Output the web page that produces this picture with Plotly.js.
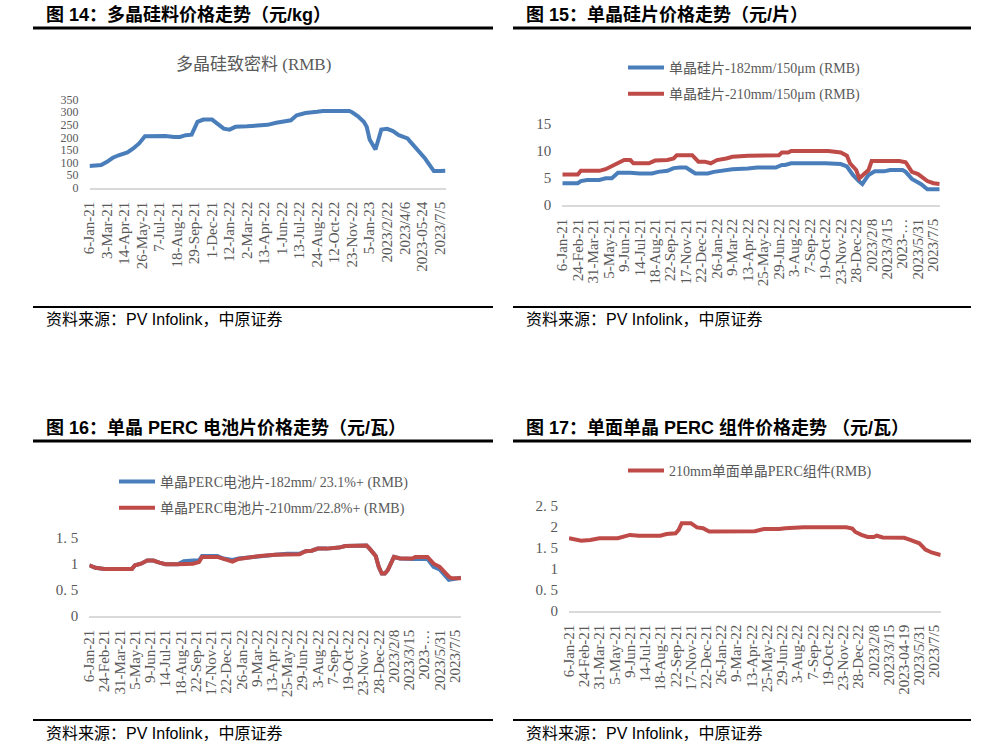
<!DOCTYPE html>
<html><head><meta charset="utf-8">
<script src="https://cdn.plot.ly/plotly-3.0.1.min.js"></script>
<style>html,body{margin:0;padding:0;background:#fff}#chart{width:986px;height:748px}</style>
</head><body><div id="chart"></div>
<script>
// ---------- Figure 14: polysilicon dense material (RMB/kg) ----------
const fig14Ticks = ["6-Jan-21","3-Mar-21","14-Apr-21","26-May-21","7-Jul-21","18-Aug-21","29-Sep-21","1-Dec-21","12-Jan-22","2-Mar-22","13-Apr-22","1-Jun-22","13-Jul-22","24-Aug-22","12-Oct-22","23-Nov-22","5-Jan-23","2023/2/22","2023/4/6","2023-05-24","2023/7/5"];
const polyWeek  = [0,4,6,8,10,13,15,17,19,23,26,29,31,33,35,37,39,42,46,48,50,54,57,61,64,67,69,71,74,78,80,89,90,92,94,95,96,98,100,102,104,106,109,110,113,115,117,118,120,122];
const polyPrice = [86,90,103,119,129,140,156,176,205,206,206,202,202,209,211,262,271,271,235,231,242,244,246,250,258,264,268,288,297,302,305,305,300,284,262,242,192,152,231,234,225,209,196,182,143,116,83,66,66,67];

// ---------- Figure 15: mono wafer (RMB/piece) ----------
const fig15Ticks = ["6-Jan-21","24-Feb-21","31-Mar-21","5-May-21","9-Jun-21","14-Jul-21","18-Aug-21","22-Sep-21","17-Nov-21","22-Dec-21","26-Jan-22","9-Mar-22","13-Apr-22","25-May-22","29-Jun-22","3-Aug-22","7-Sep-22","19-Oct-22","23-Nov-22","28-Dec-22","2023/2/8","2023/3/15","2023-…","2023/5/31","2023/7/5"];
const wafer182Week  = [0,5,6,8,12,14,16,18,22,25,29,31,34,36,38,40,43,47,49,53,55,60,63,69,71,72,74,85,90,92,94,96,97,98,99,101,104,106,110,111,113,116,118,122];
const wafer182Price = [4.0,4.0,4.4,4.6,4.6,4.9,4.9,5.95,5.95,5.8,5.8,6.1,6.3,6.8,6.9,6.9,5.8,5.8,6.1,6.45,6.6,6.75,6.9,6.9,7.4,7.4,7.7,7.7,7.55,7.1,5.5,4.3,3.85,4.7,5.5,6.2,6.2,6.45,6.45,6.1,4.8,3.8,2.85,2.85];
const wafer210Week  = [0,5,6,12,14,16,20,22,23,28,30,34,36,37,42,44,46,48,50,53,55,60,64,70,71,73,74,86,90,92,93,95,96,97,99,100,109,111,113,115,118,120,122];
const wafer210Price = [5.6,5.6,6.3,6.3,6.6,7.2,8.3,8.3,7.7,7.7,8.2,8.3,8.6,9.2,9.2,8.0,8.0,7.7,8.3,8.6,8.9,9.1,9.2,9.2,9.7,9.7,10.0,10.0,9.7,9.1,7.7,6.45,4.9,5.5,6.45,8.1,8.1,7.9,6.1,5.7,4.4,4.0,3.85];

// ---------- Figure 16: mono PERC cell (RMB/W) ----------
const fig16Ticks = ["6-Jan-21","24-Feb-21","31-Mar-21","5-May-21","9-Jun-21","14-Jul-21","18-Aug-21","22-Sep-21","17-Nov-21","22-Dec-21","26-Jan-22","9-Mar-22","13-Apr-22","25-May-22","29-Jun-22","3-Aug-22","7-Sep-22","19-Oct-22","23-Nov-22","28-Dec-22","2023/2/8","2023/3/15","2023-…","2023/5/31","2023/7/5"];
const cell182Week  = [0,2,5,10,12,14,15,17,19,21,23,25,29,31,34,36,37,42,44,46,47,49,52,56,61,65,69,70,71,73,75,78,82,84,91,92,94,95,96,97,98,100,102,106,111,113,115,118,119,122];
const cell182Price = [0.97,0.92,0.90,0.90,0.89,0.90,0.97,1.0,1.06,1.06,1.02,0.99,0.99,1.05,1.06,1.06,1.15,1.15,1.10,1.07,1.07,1.10,1.12,1.15,1.17,1.19,1.19,1.22,1.24,1.25,1.29,1.29,1.31,1.34,1.35,1.29,1.15,0.94,0.81,0.81,0.88,1.13,1.10,1.09,1.09,0.94,0.89,0.69,0.70,0.73];
const cell210Week  = [0,2,5,10,12,14,15,17,19,21,23,25,29,31,34,36,37,42,44,46,47,49,52,56,61,65,69,70,71,73,75,78,82,84,91,92,94,95,96,97,98,100,102,106,107,111,113,115,118,119,122];
const cell210Price = [0.97,0.92,0.90,0.90,0.89,0.90,0.97,1.0,1.06,1.06,1.02,0.99,0.99,1.0,1.0,1.03,1.13,1.13,1.09,1.05,1.04,1.09,1.12,1.15,1.17,1.18,1.18,1.21,1.24,1.25,1.29,1.29,1.31,1.34,1.35,1.29,1.15,0.94,0.81,0.81,0.88,1.13,1.10,1.10,1.13,1.13,1.0,0.94,0.75,0.72,0.72];
const cellYTickVals = [0,0.5,1,1.5];
const cellYTickText = ["0","0. 5","1","1. 5"];

// ---------- Figure 17: mono-facial PERC module (RMB/W) ----------
const fig17Ticks = ["6-Jan-21","24-Feb-21","31-Mar-21","5-May-21","9-Jun-21","14-Jul-21","18-Aug-21","22-Sep-21","17-Nov-21","22-Dec-21","26-Jan-22","9-Mar-22","13-Apr-22","25-May-22","29-Jun-22","3-Aug-22","7-Sep-22","19-Oct-22","23-Nov-22","28-Dec-22","2023/2/8","2023/3/15","2023-04-19","2023/5/31","2023/7/5"];
const moduleWeek  = [0,2,4,7,10,16,18,20,23,30,32,35,36,37,40,42,44,46,61,64,69,71,77,91,93,94,96,98,100,101,103,106,110,112,115,117,119,122];
const modulePrice = [1.73,1.69,1.67,1.69,1.73,1.73,1.78,1.81,1.79,1.79,1.83,1.85,1.93,2.09,2.09,1.99,1.97,1.89,1.90,1.95,1.95,1.97,1.99,1.99,1.96,1.88,1.81,1.76,1.76,1.79,1.75,1.74,1.74,1.69,1.61,1.46,1.39,1.33];
const moduleYTickVals = [0,0.5,1,1.5,2,2.5];
const moduleYTickText = ["0","0. 5","1","1. 5","2","2. 5"];

// ---------- styling ----------
const W = 986, H = 748;
const fx = p => p / W;
const fy = p => 1 - p / H;
const BLUE = "#4a7ebb", RED = "#be4b48", GREY = "#595959";
const SERIF = "Liberation Serif, Noto Sans CJK SC, serif";
const SANS = "Liberation Sans, Noto Sans CJK SC, sans-serif";

function xAxis(ticks, step, x0, x1, anchor) {
  return {
    domain: [fx(x0), fx(x1)], anchor: anchor, type: "linear", range: [0, 122],
    tickvals: ticks.map((t, i) => i * step), ticktext: ticks, tickangle: -90,
    ticks: "", showgrid: false, zeroline: false, showline: true,
    linecolor: "#d9d9d9", linewidth: 2, ticklabelstandoff: 6,
    tickfont: {family: SERIF, size: 15, color: GREY}, fixedrange: true
  };
}
function yAxis(range, y0, y1, anchor, extra, fsize) {
  return Object.assign({
    domain: [fy(y1), fy(y0)], anchor: anchor, range: range,
    ticks: "", showgrid: false, zeroline: false, showline: false,
    ticklabelstandoff: 10, tickfont: {family: SERIF, size: fsize || 15, color: GREY}, fixedrange: true
  }, extra || {});
}
function line(x, y, name, color, xa, ya, legend, show) {
  return {type: "scatter", mode: "lines", x: x, y: y, name: name, xaxis: xa, yaxis: ya,
    line: {color: color, width: 4, shape: "linear"}, cliponaxis: false,
    legend: legend, legendgroup: name, showlegend: show, hoverinfo: "skip"};
}

const traces = [
  line(polyWeek, polyPrice, "多晶硅致密料 (RMB)", BLUE, "x", "y", "legend", false),
  line(wafer182Week, wafer182Price, "单晶硅片-182mm/150μm (RMB)", BLUE, "x2", "y2", "legend", true),
  line(wafer210Week, wafer210Price, "单晶硅片-210mm/150μm (RMB)", RED, "x2", "y2", "legend", true),
  line(cell182Week, cell182Price, "单晶PERC电池片-182mm/ 23.1%+ (RMB)", BLUE, "x3", "y3", "legend2", true),
  line(cell210Week, cell210Price, "单晶PERC电池片-210mm/22.8%+ (RMB)", RED, "x3", "y3", "legend2", true),
  line(moduleWeek, modulePrice, "210mm单面单晶PERC组件(RMB)", RED, "x4", "y4", "legend3", true)
];

function hline(x0, x1, y, w) {
  return {type: "line", xref: "paper", yref: "paper", x0: fx(x0), x1: fx(x1), y0: fy(y), y1: fy(y),
    line: {color: "#000", width: w}};
}
function note(text, x, y, size, opts) {
  return Object.assign({text: text, xref: "paper", yref: "paper", x: fx(x), y: fy(y),
    xanchor: "left", yanchor: "middle", showarrow: false,
    font: {family: SANS, size: size, color: "#000"}}, opts || {});
}
const legendBase = {orientation: "v", bgcolor: "rgba(0,0,0,0)", borderwidth: 0, itemwidth: 36,
  font: {family: SERIF, size: 14, color: GREY}, xanchor: "left", yanchor: "top", tracegroupgap: 5};

const layout = {
  width: W, height: H, margin: {l: 0, r: 0, t: 0, b: 0},
  paper_bgcolor: "#fff", plot_bgcolor: "#fff", hovermode: false,
  xaxis:  xAxis(fig14Ticks, 6, 89.5, 445.5, "y"),
  yaxis:  yAxis([0, 350], 99.7, 187.7, "x", {dtick: 50, tick0: 0}, 12),
  xaxis2: xAxis(fig15Ticks, 5, 562.3, 939.7, "y2"),
  yaxis2: yAxis([0, 15], 124, 204.7, "x2", {dtick: 5, tick0: 0}),
  xaxis3: xAxis(fig16Ticks, 5, 89.3, 461, "y3"),
  yaxis3: yAxis([0, 1.5], 537.7, 615.7, "x3", {tickvals: cellYTickVals, ticktext: cellYTickText}),
  xaxis4: xAxis(fig17Ticks, 5, 569, 940.7, "y4"),
  yaxis4: yAxis([0, 2.5], 506, 610.7, "x4", {tickvals: moduleYTickVals, ticktext: moduleYTickText}),
  legend:  Object.assign({}, legendBase, {x: fx(623), y: fy(52)}),
  legend2: Object.assign({}, legendBase, {x: fx(114), y: fy(466)}),
  legend3: Object.assign({}, legendBase, {x: fx(623), y: fy(455)}),
  shapes: [
    hline(33, 493, 28, 3), hline(513, 971, 28, 3),
    hline(33, 493, 441, 3), hline(513, 971, 441, 3),
    hline(33, 493, 307, 2), hline(513, 971, 307, 2),
    hline(33, 493, 720, 2), hline(513, 971, 720, 2)
  ],
  annotations: [
    note("<b>图 14：多晶硅料价格走势（元/kg）</b>", 44, 15, 18),
    note("<b>图 15：单晶硅片价格走势（元/片）</b>", 524, 15, 18),
    note("<b>图 16：单晶 PERC 电池片价格走势（元/瓦）</b>", 44, 428, 18),
    note("<b>图 17：单面单晶 PERC 组件价格走势 （元/瓦）</b>", 524, 428, 18),
    note("多晶硅致密料 (RMB)", 254, 64, 17, {xanchor: "center", font: {family: SERIF, size: 17, color: GREY}}),
    note("资料来源：PV Infolink，中原证券", 44, 319, 16),
    note("资料来源：PV Infolink，中原证券", 524, 319, 16),
    note("资料来源：PV Infolink，中原证券", 44, 733, 16),
    note("资料来源：PV Infolink，中原证券", 524, 733, 16)
  ]
};

Plotly.newPlot("chart", traces, layout, {staticPlot: true, displayModeBar: false});
</script></body></html>
